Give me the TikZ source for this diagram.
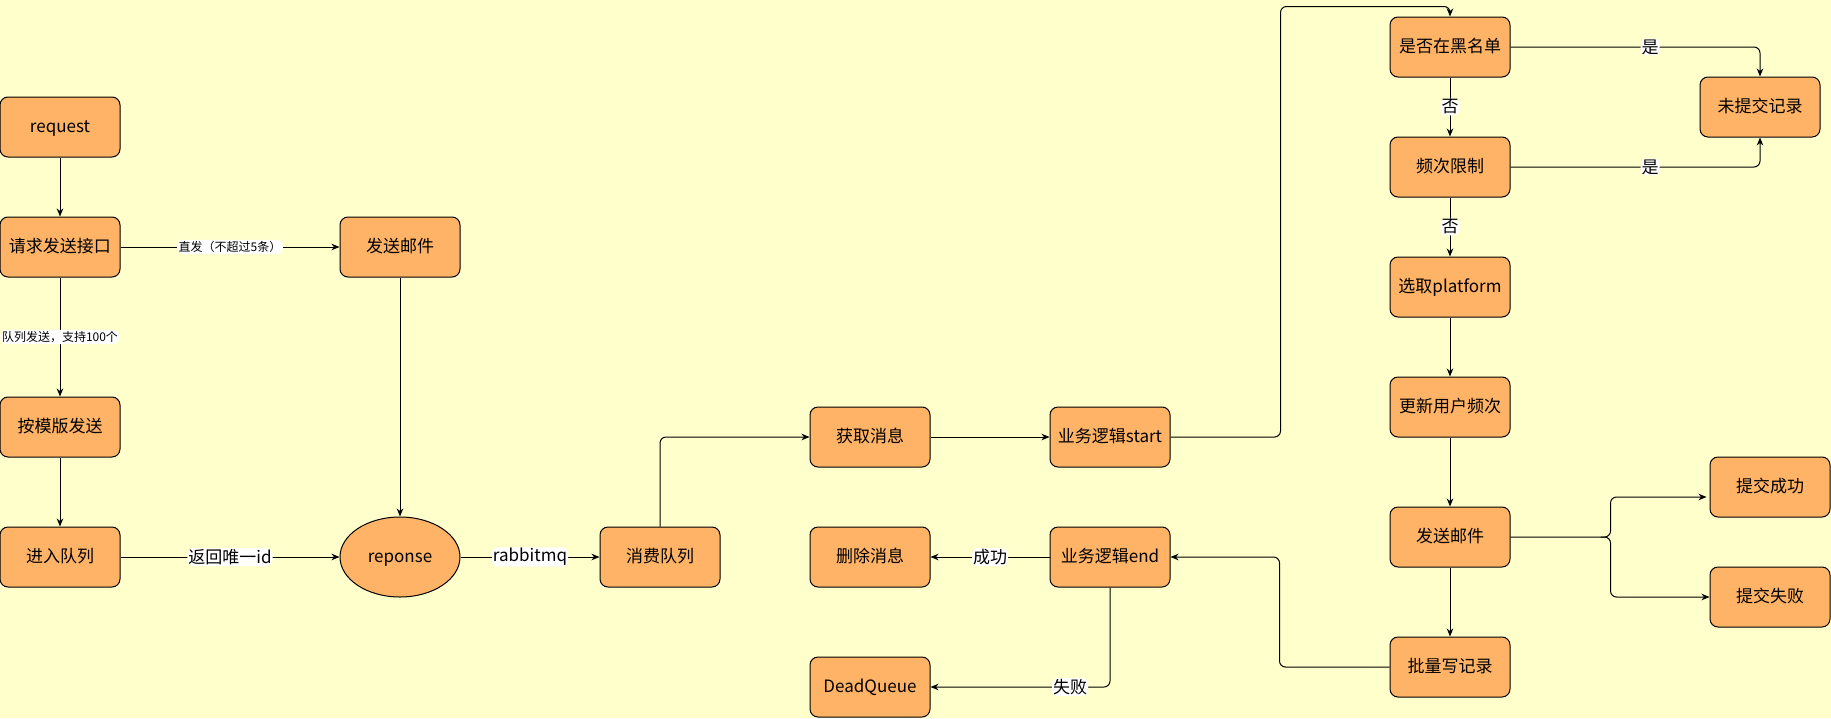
\documentclass[tikz,border=0pt]{standalone}
\usepackage{fontspec}
\setmainfont{Noto Sans CJK SC}
\usetikzlibrary{arrows.meta,calc,shapes.geometric}
\definecolor{bgcol}{HTML}{FFFFCC}
\definecolor{boxfill}{HTML}{FFB366}
\begin{document}
\begin{tikzpicture}[x=1pt,y=-1pt,
  box/.style={draw=black, fill=boxfill, rounded corners=8pt, minimum width=120pt, minimum height=60pt, inner sep=1pt, text height=12.5pt, text depth=2.5pt, font=\fontsize{17}{20}\selectfont, line width=1pt},
  oval/.style={draw=black, fill=boxfill, ellipse, minimum width=120pt, minimum height=80pt, inner sep=1pt, text height=12.5pt, text depth=2.5pt, font=\fontsize{17}{20}\selectfont, line width=1pt},
  conn/.style={line width=1pt, -{Stealth[length=8pt,width=6.5pt,inset=2.5pt]}, rounded corners=6pt},
  lbl/.style={fill=white, inner sep=1pt, font=\fontsize{17}{20}\selectfont},
  slbl/.style={fill=white, inner sep=1.5pt, font=\fontsize{12}{14}\selectfont}]
\fill[bgcol] (0,0) rectangle (1831,718);
\useasboundingbox (0,0) rectangle (1831,718);

% left part
\node[box] (req)  at (60,127) {request};
\node[box] (api)  at (60,247) {请求发送接口};
\node[box] (mail1) at (400,247) {发送邮件};
\node[box] (tpl)  at (60,427) {按模版发送};
\node[box] (inq)  at (60,557) {进入队列};
\node[oval] (resp) at (400,557) {reponse};
\node[box] (cons) at (660,557) {消费队列};
\node[box] (get)  at (870,437) {获取消息};
\node[box] (bstart) at (1110,437) {业务逻辑start};
\node[box] (del)  at (870,557) {删除消息};
\node[box] (bend) at (1110,557) {业务逻辑end};
\node[box] (dq)   at (870,687) {DeadQueue};
% right part
\node[box] (black) at (1450,47) {是否在黑名单};
\node[box] (freq)  at (1450,167) {频次限制};
\node[box] (plat)  at (1450,287) {选取platform};
\node[box] (upd)   at (1450,407) {更新用户频次};
\node[box] (mail2) at (1450,537) {发送邮件};
\node[box] (batch) at (1450,667) {批量写记录};
\node[box] (norec) at (1760,107) {未提交记录};
\node[box] (ok)    at (1770,487) {提交成功};
\node[box] (fail)  at (1770,597) {提交失败};

% connectors
\draw[conn] (req) -- (api);
\draw[conn] (api) -- node[slbl] {直发（不超过5条）} (mail1);
\draw[conn] (api) -- node[slbl] {队列发送，支持100个} (tpl);
\draw[conn] (tpl) -- (inq);
\draw[conn] (inq) -- node[lbl] {返回唯一id} (resp);
\draw[conn] (mail1) -- (resp);
\draw[conn] (resp) -- node[lbl] {rabbitmq} (cons);
\draw[conn] (cons.north) |- (get.west);
\draw[conn] (get) -- (bstart);
\draw[conn] (bstart.east) -- ++(110,0) |- ($(black.north)+(0,-10)$) -- (black.north);
\draw[conn] (black.east) -| node[lbl, pos=0.28] {是} (norec.north);
\draw[conn] (freq.east) -| node[lbl, pos=0.28] {是} (norec.south);
\draw[conn] (black) -- node[lbl] {否} (freq);
\draw[conn] (freq) -- node[lbl] {否} (plat);
\draw[conn] (plat) -- (upd);
\draw[conn] (upd) -- (mail2);
\draw[conn] (mail2) -- (batch);
\draw[conn] (mail2.east) -- ++(100,0) |- ($(ok.west)+(-3,10)$);
\draw[conn] ($(mail2.east)+(90,0)$) -- ++(10,0) |- (fail.west);
\draw[conn] (batch.west) -- ++(-110,0) |- (bend.east);
\draw[conn] (bend) -- node[lbl] {成功} (del);
\draw[conn] (bend.south) |- node[lbl, pos=0.611] {失败} (dq.east);
\end{tikzpicture}
\end{document}
